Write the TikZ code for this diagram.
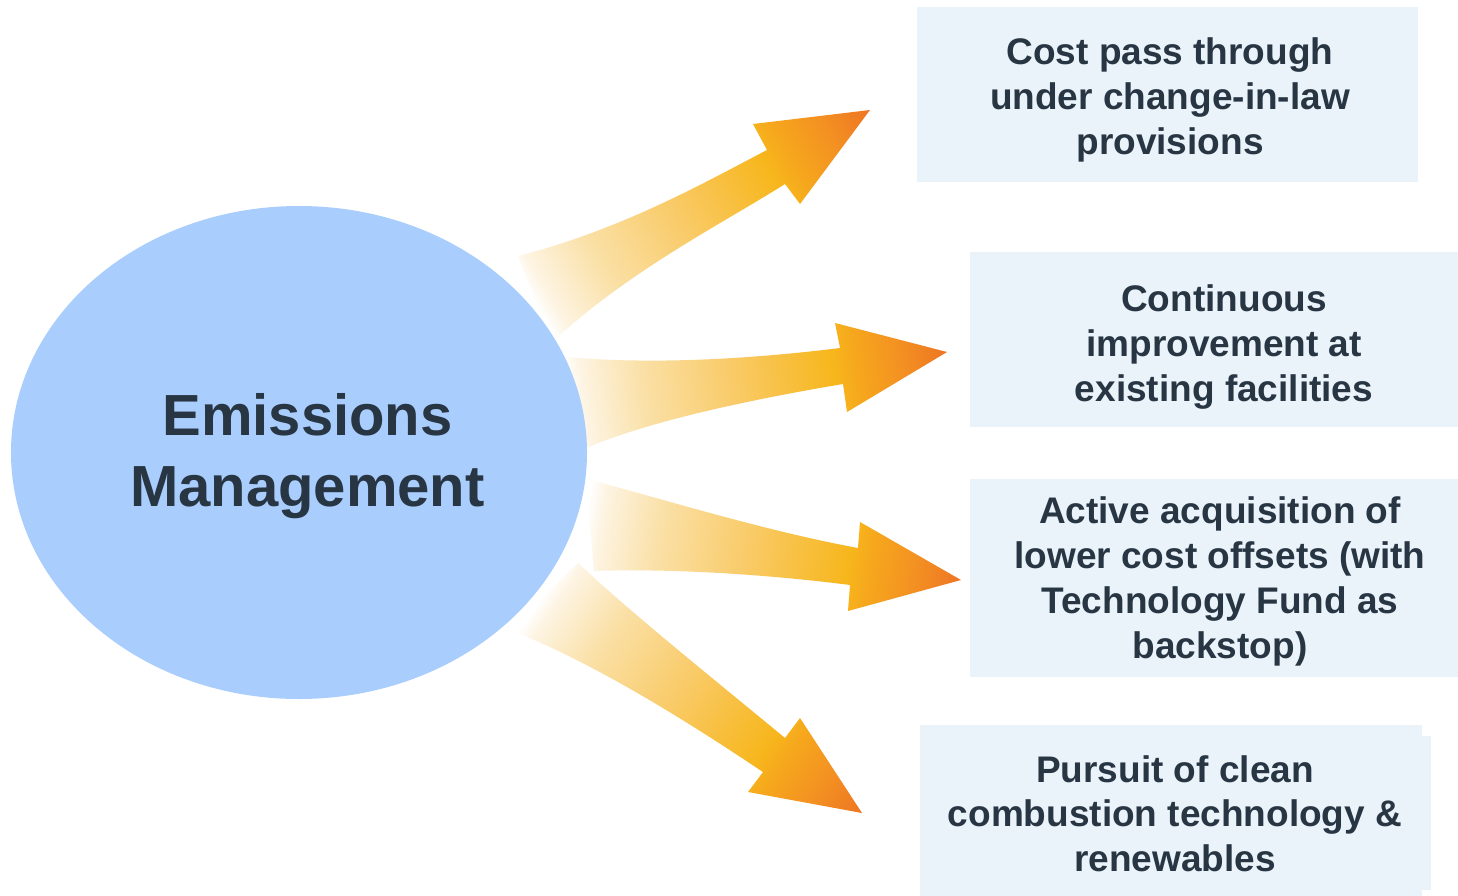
\documentclass[tikz,border=0pt]{standalone}
\usepackage{fontspec}
\setmainfont{Liberation Sans}
\usetikzlibrary{shapes.geometric}
\definecolor{ellblue}{HTML}{A9CDFD}
\definecolor{boxfill}{HTML}{EAF2FA}
\definecolor{txt}{HTML}{283644}
\definecolor{sA}{HTML}{FDF4E3}
\definecolor{sB}{HTML}{FAE0A6}
\definecolor{sC}{HTML}{F9CA66}
\definecolor{sD}{HTML}{F7B61C}
\definecolor{sE}{HTML}{F6A71D}
\definecolor{sF}{HTML}{F39022}
\definecolor{sG}{HTML}{EE7523}
\pgfdeclarehorizontalshading{arrowshade}{100bp}{color(0bp)=(white); color(25bp)=(white); color(27bp)=(sA); color(35bp)=(sB); color(47bp)=(sC); color(60bp)=(sD); color(63bp)=(sE); color(69bp)=(sF); color(75bp)=(sG); color(100bp)=(sG)}
\begin{document}
\begin{tikzpicture}[x=1pt,y=-1pt,
  boxstyle/.style={rectangle, fill=boxfill, inner sep=0pt, outer sep=0pt},
  boxtext/.style={align=center, inner sep=0pt, text=txt, font=\fontsize{37}{44.8}\selectfont\bfseries},
  bigtext/.style={align=center, inner sep=0pt, text=txt, font=\fontsize{58}{70.5}\selectfont\bfseries}]
\useasboundingbox (0,0) rectangle (1458,896);
\fill[white] (0,0) rectangle (1458,896);

% arrow 1
\begin{scope}
\clip (518,256) .. controls (620,230) and (700,185) .. (767,150) -- (753,124) -- (870,110) -- (800,204) -- (785,184) .. controls (720,225) and (630,270) .. (552,342) -- cycle;
\begin{scope}[transform canvas={shift={(541pt,-298pt)},rotate=29.7}]
\shade[shading=arrowshade] (-8pt,-250pt) rectangle (379pt,250pt);
\end{scope}
\end{scope}

% arrow 2
\begin{scope}
\clip (558,356) .. controls (650,366) and (760,358) .. (840,348) -- (835,323) -- (947,352) -- (847,412) -- (843,384) .. controls (760,398) and (650,420) .. (584,449) -- cycle;
\begin{scope}[transform canvas={shift={(577pt,-402pt)},rotate=7.7}]
\shade[shading=arrowshade] (-8pt,-250pt) rectangle (373.4pt,250pt);
\end{scope}
\end{scope}

% arrow 3
\begin{scope}
\clip (586,479) .. controls (650,495) and (760,530) .. (858,548) -- (860,522) -- (961,580) -- (848,611) -- (850,585) .. controls (780,576) and (680,568) .. (594,571) -- cycle;
\begin{scope}[transform canvas={shift={(593pt,-525pt)},rotate=-8.5}]
\shade[shading=arrowshade] (-8pt,-250pt) rectangle (372.1pt,250pt);
\end{scope}
\end{scope}

% arrow 4
\begin{scope}
\clip (578,563) .. controls (630,612) and (710,676) .. (785,738) -- (800,718) -- (862,813) -- (748,792) -- (763,772) .. controls (700,730) and (600,665) .. (510,630) -- cycle;
\begin{scope}[transform canvas={shift={(549pt,-600pt)},rotate=-34.2}]
\shade[shading=arrowshade] (-8pt,-250pt) rectangle (378.6pt,250pt);
\end{scope}
\end{scope}

% central ellipse (on top of the arrow tails)
\node[ellipse, fill=ellblue, inner sep=0pt, minimum width=576pt, minimum height=493pt] (em) at (299,452.5) {};
\node[bigtext] (emt) at (307.5,456) {Emissions\\Management};

% boxes
\node[boxstyle, minimum width=501pt, minimum height=175pt] (b1) at (1167.5,94.5) {};
\node[boxstyle, minimum width=508pt, minimum height=175pt] (b2) at (1224,339.5) {};
\node[boxstyle, minimum width=508pt, minimum height=198pt] (b3) at (1224,578) {};
\node[boxstyle, minimum width=502pt, minimum height=173pt] (b4) at (1171,811.5) {};
\node[boxstyle, minimum width=10pt, minimum height=154pt] (b4s) at (1426,813) {};

\node[boxtext] (t1) at (1170,99.9) {Cost pass through\\under change-in-law\\provisions};
\node[boxtext] (t2) at (1224,347.1) {Continuous\\improvement at\\existing facilities};
\node[boxtext] (t3) at (1220,581.3) {Active acquisition of\\lower cost offsets (with\\Technology Fund as\\backstop)};
\node[boxtext] (t4) at (1175,813.7) {Pursuit of clean\\combustion technology \&\\renewables};
\end{tikzpicture}
\end{document}
